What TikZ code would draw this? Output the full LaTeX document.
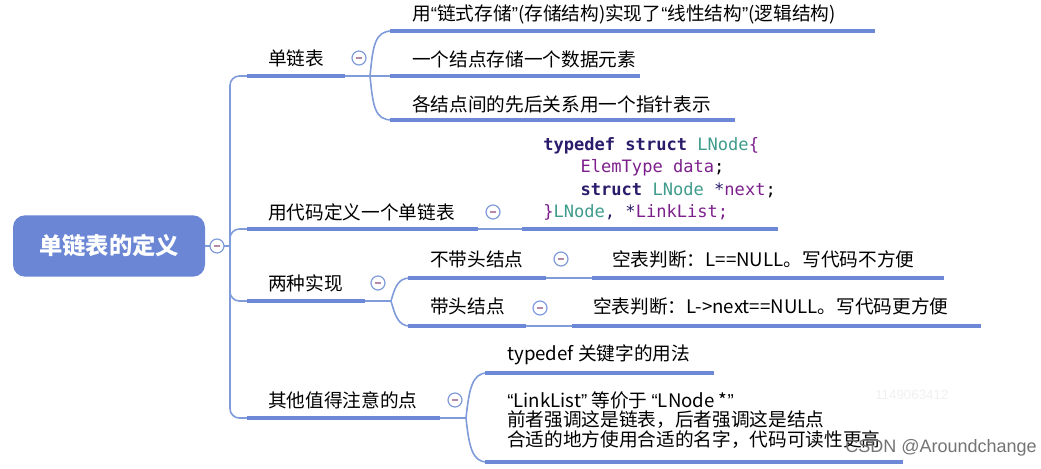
\documentclass[tikz,border=0pt]{standalone}
\usepackage{fontspec}
\setmainfont{Noto Sans CJK SC}
\newfontfamily\codefont{DejaVu Sans Mono}
\newfontfamily\markfont{Liberation Sans}
\usetikzlibrary{positioning}
\definecolor{rootblue}{HTML}{6A86D4}
\definecolor{linkblue}{HTML}{809BD9}
\definecolor{barblue}{HTML}{6C88D6}
\definecolor{minuscol}{HTML}{B48AA8}
\definecolor{kwcol}{HTML}{2B1B6B}
\definecolor{typecol}{HTML}{3F9C8C}
\definecolor{idcol}{HTML}{7C1F8C}
\tikzset{
  topic/.style={anchor=west, inner sep=0pt, font=\fontsize{14}{17}\selectfont},
  rootbox/.style={rounded corners=9pt, fill=rootblue, text=white, minimum width=144pt, minimum height=46pt, font=\fontsize{17.5}{20}\selectfont\bfseries},
  link/.style={linkblue, line width=1.2pt},
  bar/.style={barblue, line width=3pt},
  fold/.style={circle, draw=linkblue, fill=white, line width=0.9pt, minimum size=10.5pt, inner sep=0pt,
    path picture={\draw[minuscol, line width=0.9pt] ([xshift=-2.6pt]path picture bounding box.center) -- ([xshift=2.6pt]path picture bounding box.center);}},
}
\newcommand{\kwd}[1]{\textcolor{kwcol}{\bfseries #1}}
\newcommand{\typ}[1]{\textcolor{typecol}{#1}}
\newcommand{\idn}[1]{\textcolor{idcol}{#1}}
\newcommand{\oq}{{\markfont “}}
\newcommand{\cq}{{\markfont ”}}

\begin{document}
\begin{tikzpicture}[x=0.75pt, y=-0.75pt]
  \useasboundingbox (0,0) rectangle (1041,468);

  % root
  \node[rootbox] (root) at (109,246) {单链表的定义};

  % trunk
  \coordinate (j1) at (247,76);
  \coordinate (j2) at (247,229);
  \coordinate (j3) at (247,301);
  \coordinate (j4) at (247,418);
  \draw[link] (root.east) -- (230,246);
  \draw[link, rounded corners=7] (j1) -| (230,418) -- (j4);
  \draw[link, rounded corners=7] (230,250) |- (j2);
  \draw[link, rounded corners=7] (230,280) |- (j3);
  \node[fold] (f0) at (217,246) {};

  % branch 1
  \node[topic] (b1) at (268,58) {单链表};
  \coordinate (b1e) at (370,76);
  \draw[bar] (j1) -- (345,76);
  \draw[link] (345,76) -- (b1e) -- (390,76);
  \draw[link] (b1e) .. controls (373,45) and (375,31) .. (392,31);
  \draw[link] (b1e) .. controls (373,107) and (375,120) .. (392,120);
  \draw[bar] (390,31) -- (875,31);
  \draw[bar] (390,76) -- (640,76);
  \draw[bar] (390,120) -- (735,120);
  \node[topic] (c11) at (412,14) {用\oq 链式存储\cq(存储结构)实现了\oq 线性结构\cq(逻辑结构)};
  \node[topic] (c12) at (412,59) {一个结点存储一个数据元素};
  \node[topic] (c13) at (412,104) {各结点间的先后关系用一个指针表示};
  \node[fold] (f1) at (359,58) {};

  % branch 2
  \node[topic] (b2) at (268,212) {用代码定义一个单链表};
  \draw[bar] (j2) -- (478,229);
  \draw[link] (478,229) -- (522,229);
  \draw[bar] (522,229) -- (778,229);
  \node[anchor=north west, inner sep=0pt, align=left, font=\codefont\fontsize{12.8}{16.9}\selectfont] (code) at (543,137)
    {\kwd{typedef struct} \typ{LNode}\idn{\{}\\
     \hspace*{4ex}\idn{ElemType data};\\
     \hspace*{4ex}\kwd{struct} \typ{LNode} \textcolor{kwcol}{*}\idn{next};\\
     \idn{\}}\typ{LNode}\textcolor{kwcol}{, *}\idn{LinkList;}};
  \node[fold] (f2) at (493,212) {};

  % branch 3
  \node[topic] (b3) at (268,283) {两种实现};
  \coordinate (b3e) at (391,301);
  \draw[bar] (j3) -- (365,301);
  \draw[link] (365,301) -- (b3e);
  \draw[link] (b3e) .. controls (395,287) and (398,278) .. (410,278);
  \draw[link] (b3e) .. controls (395,315) and (398,326) .. (410,326);
  \draw[bar] (408,278) -- (546,278);
  \draw[link] (546,278) -- (592,278);
  \draw[bar] (592,278) -- (944,278);
  \draw[bar] (408,326) -- (526,326);
  \draw[link] (526,326) -- (572,326);
  \draw[bar] (572,326) -- (981,326);
  \node[topic] (c31) at (430,259) {不带头结点};
  \node[topic] (c32) at (430,306) {带头结点};
  \node[topic] (g31) at (612,259) {空表判断：L==NULL。写代码不方便};
  \node[topic] (g32) at (593,306) {空表判断：L->next==NULL。写代码更方便};
  \node[fold] (f3) at (378,283) {};
  \node[fold] (f31) at (561,259) {};
  \node[fold] (f32) at (540,308) {};

  % branch 4
  \node[topic] (b4) at (268,400) {其他值得注意的点};
  \coordinate (b4e) at (466,418);
  \draw[bar] (j4) -- (440,418);
  \draw[link] (440,418) -- (b4e);
  \draw[link] (b4e) .. controls (469,390) and (472,373) .. (487,373);
  \draw[link] (b4e) .. controls (469,446) and (472,462) .. (487,462);
  \draw[bar] (485,373) -- (714,373);
  \draw[bar] (485,462) -- (903,462);
  \node[topic] (c41) at (507,355) {typedef 关键字的用法};
  \node[topic, align=left, font=\fontsize{14}{14.5}\selectfont] (c42) at (507,420)
    {\oq LinkList\cq{} 等价于 \oq LNode *\cq\\前者强调这是链表，后者强调这是结点\\合适的地方使用合适的名字，代码可读性更高};
  \node[fold] (f4) at (455,400) {};

  % watermark
  \node[anchor=west, inner sep=0pt, text=black!6, font=\markfont\fontsize{10}{12}\selectfont] (wm1) at (875,395) {1149063412};
  \node[anchor=west, inner sep=0pt, text=black!55, font=\markfont\fontsize{13.5}{16}\selectfont] (wm2) at (845,448) {CSDN @Aroundchange};
\end{tikzpicture}
\end{document}
